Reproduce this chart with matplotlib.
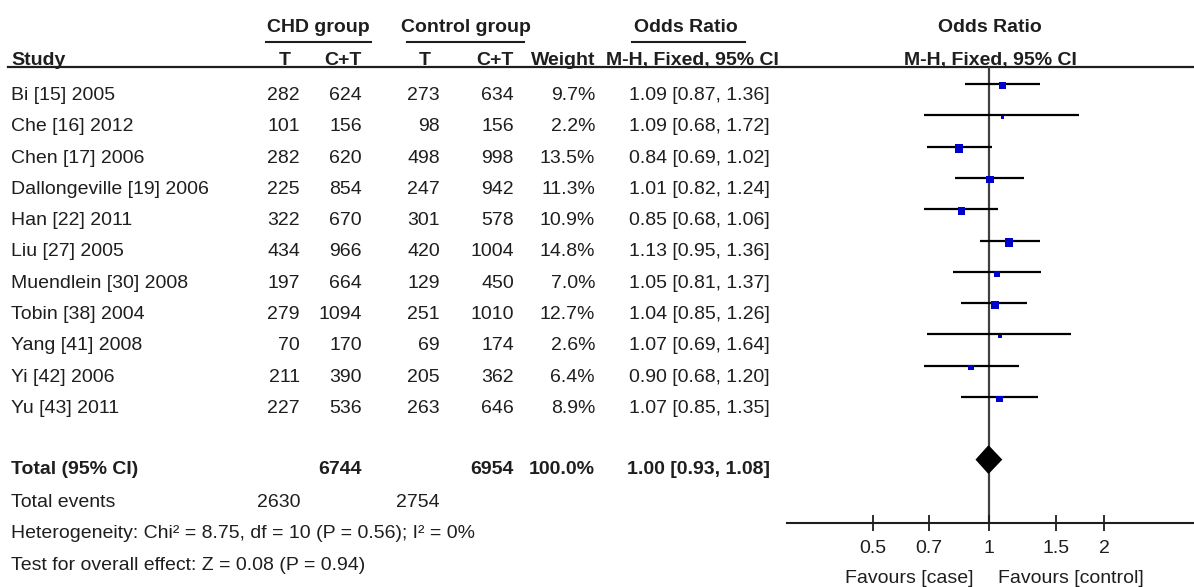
import matplotlib
matplotlib.use('Agg')
import matplotlib.pyplot as plt
import numpy as np

# ── Data ───────────────────────────────────────────────────────────
studies = ['Bi [15] 2005', 'Che [16] 2012', 'Chen [17] 2006',
           'Dallongeville [19] 2006', 'Han [22] 2011', 'Liu [27] 2005',
           'Muendlein [30] 2008', 'Tobin [38] 2004', 'Yang [41] 2008',
           'Yi [42] 2006', 'Yu [43] 2011']
chd_events = [282, 101, 282, 225, 322, 434, 197, 279, 70, 211, 227]
chd_total = [624, 156, 620, 854, 670, 966, 664, 1094, 170, 390, 536]
ctl_events = [273, 98, 498, 247, 301, 420, 129, 251, 69, 205, 263]
ctl_total = [634, 156, 998, 942, 578, 1004, 450, 1010, 174, 362, 646]
weights = [9.7, 2.2, 13.5, 11.3, 10.9, 14.8, 7.0, 12.7, 2.6, 6.4, 8.9]
or_est = [1.09, 1.09, 0.84, 1.01, 0.85, 1.13, 1.05, 1.04, 1.07, 0.90, 1.07]
ci_low = [0.87, 0.68, 0.69, 0.82, 0.68, 0.95, 0.81, 0.85, 0.69, 0.68, 0.85]
ci_high = [1.36, 1.72, 1.02, 1.24, 1.06, 1.36, 1.37, 1.26, 1.64, 1.20, 1.35]

total_chd = 6744
total_ctl = 6954
total_weight = 100.0
total_or = 1.00
total_low = 0.93
total_high = 1.08
events_chd = 2630
events_ctl = 2754
heterogeneity = 'Heterogeneity: Chi² = 8.75, df = 10 (P = 0.56); I² = 0%'
overall = 'Test for overall effect: Z = 0.08 (P = 0.94)'

tick_vals = [0.5, 0.7, 1, 1.5, 2]
tick_labels = ['0.5', '0.7', '1', '1.5', '2']

# ── Style ──────────────────────────────────────────────────────────
plt.rcParams['font.family'] = ['Liberation Sans', 'DejaVu Sans']
TXT = '#1e1e1e'
BLUE = '#0000cc'
FS = 14

W, H = 1194, 587
fig = plt.figure(figsize=(W / 100, H / 100), dpi=100, facecolor='white')

# table layer in pixel coordinates
ax = fig.add_axes([0, 0, 1, 1])
ax.set_xlim(0, W)
ax.set_ylim(H, 0)
ax.axis('off')

ROW0, DY = 100, 31.3          # baseline of first study row, row pitch


def row_y(k):
    return ROW0 + DY * k


def put(x, y, s, ha='left', bold=False):
    ax.text(x, y, s, ha=ha, va='baseline', fontsize=FS, color=TXT,
            fontweight='bold' if bold else 'normal')


# column anchors
X_STUDY = 11
X_CT, X_CN = 300, 362
X_KT, X_KN = 440, 514
X_W = 595
X_OR = 770

# headers
put(318, 32, 'CHD group', ha='center', bold=True)
put(466, 32, 'Control group', ha='center', bold=True)
put(686, 32, 'Odds Ratio', ha='center', bold=True)
put(990, 32, 'Odds Ratio', ha='center', bold=True)
for x0, x1 in [(266, 371), (407, 524), (632, 745)]:
    ax.plot([x0, x1], [42, 42], color=TXT, lw=1.5)

put(X_STUDY, 65, 'Study', bold=True)
put(285, 65, 'T', ha='center', bold=True)
put(X_CN, 65, 'C+T', ha='right', bold=True)
put(425, 65, 'T', ha='center', bold=True)
put(X_KN, 65, 'C+T', ha='right', bold=True)
put(X_W, 65, 'Weight', ha='right', bold=True)
put(692, 65, 'M-H, Fixed, 95% CI', ha='center', bold=True)
put(990, 65, 'M-H, Fixed, 95% CI', ha='center', bold=True)
ax.plot([8, W], [67, 67], color=TXT, lw=1.6)

# study rows
for k, name in enumerate(studies):
    y = row_y(k)
    put(X_STUDY, y, name)
    put(X_CT, y, f'{chd_events[k]}', ha='right')
    put(X_CN, y, f'{chd_total[k]}', ha='right')
    put(X_KT, y, f'{ctl_events[k]}', ha='right')
    put(X_KN, y, f'{ctl_total[k]}', ha='right')
    put(X_W, y, f'{weights[k]:.1f}%', ha='right')
    put(X_OR, y, f'{or_est[k]:.2f} [{ci_low[k]:.2f}, {ci_high[k]:.2f}]', ha='right')

# totals
k_tot = len(studies) + 1
y = row_y(k_tot) - 2
put(X_STUDY, y, 'Total (95% CI)', bold=True)
put(X_CN, y, f'{total_chd}', ha='right', bold=True)
put(X_KN, y, f'{total_ctl}', ha='right', bold=True)
put(X_W, y, f'{total_weight:.1f}%', ha='right', bold=True)
put(X_OR, y, f'{total_or:.2f} [{total_low:.2f}, {total_high:.2f}]', ha='right', bold=True)

y = row_y(k_tot + 1)
put(X_STUDY, y, 'Total events')
put(X_CT, y, f'{events_chd}', ha='right')
put(X_KT, y, f'{events_ctl}', ha='right')
put(X_STUDY, row_y(k_tot + 2), heterogeneity)
put(X_STUDY, row_y(k_tot + 3), overall)

# ── Forest panel (log OR scale) ───────────────────────────────────
PX_ONE, PX_PER_LN = 988.5, 166.6      # pixel of OR = 1, pixels per ln unit
left_px, right_px = 787, W
top_px, axis_px = 67, 523
line0 = ROW0 - 16                       # CI line of row 0 (px)

axf = fig.add_axes([left_px / W, (H - axis_px) / H,
                    (right_px - left_px) / W, (axis_px - top_px) / H])
axf.set_xscale('log')
axf.set_xlim(np.exp((left_px - PX_ONE) / PX_PER_LN),
             np.exp((right_px - PX_ONE) / PX_PER_LN))
axf.set_ylim((axis_px - line0) / DY, (top_px - line0) / DY)
axf.patch.set_alpha(0)
for s in ['top', 'right', 'left']:
    axf.spines[s].set_visible(False)
axf.spines['bottom'].set_linewidth(1.5)
axf.spines['bottom'].set_color(TXT)

axf.axvline(1, color='#404040', lw=1.6, zorder=1)

rows = np.arange(len(studies))
axf.hlines(rows, ci_low, ci_high, color='black', lw=1.6, zorder=2)
sizes = (2.2 * np.sqrt(weights) * 0.72) ** 2
axf.scatter(or_est, rows + 0.06, s=sizes, marker='s', color=BLUE,
            linewidths=0, zorder=3)

# pooled diamond
dx = [total_low, total_or, total_high, total_or]
dy = [k_tot, k_tot - 0.43, k_tot, k_tot + 0.43]
axf.fill(dx, dy, color='black', zorder=3)

axf.set_yticks([])
axf.xaxis.set_minor_locator(matplotlib.ticker.NullLocator())
axf.set_xticks(tick_vals)
axf.set_xticklabels(tick_labels)
axf.tick_params(axis='x', direction='inout', length=11, width=1.3,
                colors=TXT, labelsize=FS, pad=7)

axf.annotate('Favours [case]', xy=(1, 0), xycoords=('data', 'axes fraction'),
             xytext=(-11, -43), textcoords='offset points',
             ha='right', va='baseline', fontsize=FS, color=TXT)
axf.annotate('Favours [control]', xy=(1, 0), xycoords=('data', 'axes fraction'),
             xytext=(7, -43), textcoords='offset points',
             ha='left', va='baseline', fontsize=FS, color=TXT)

fig.savefig('out.png', dpi=100, facecolor='white')
